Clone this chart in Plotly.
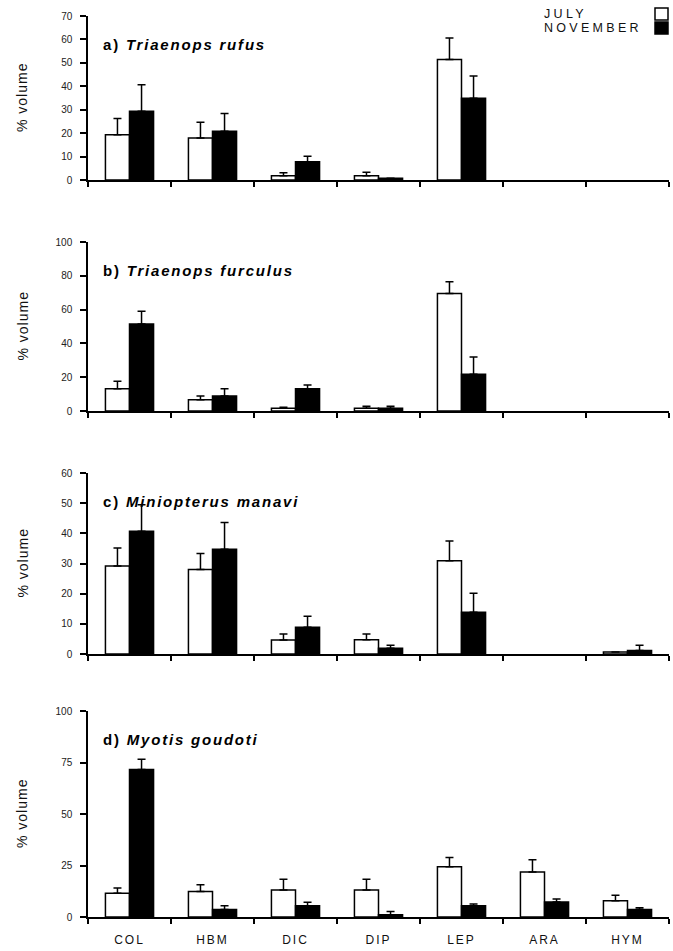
import plotly.graph_objects as go
from plotly.subplots import make_subplots

categories = ["COL", "HEM", "DIC", "DIP", "LEP", "ARA", "HYM"]
tick_labels = ["COL", "HBM", "DIC", "DIP", "LEP", "ARA", "HYM"]

# a) Triaenops rufus
a_july = [19.3, 17.9, 1.8, 1.8, 51.4, None, None]
a_july_se = [6.9, 6.7, 1.3, 1.5, 9.2, None, None]
a_nov = [29.3, 20.8, 7.8, 0.8, 34.9, None, None]
a_nov_se = [11.4, 7.6, 2.3, None, 9.5, None, None]

# b) Triaenops furculus
b_july = [13.2, 6.7, 1.6, 1.6, 69.6, None, None]
b_july_se = [4.4, 2.2, 0.6, 1.2, 6.9, None, None]
b_nov = [51.5, 8.9, 13.2, 1.6, 21.7, None, None]
b_nov_se = [7.5, 4.3, 2.2, 1.2, 10.3, None, None]

# c) Miniopterus manavi
c_july = [29.2, 28.0, 4.6, 4.75, 30.9, None, 0.66]
c_july_se = [5.9, 5.3, 2.0, 1.85, 6.6, None, None]
c_nov = [40.7, 34.7, 8.9, 1.9, 13.8, None, 1.2]
c_nov_se = [8.8, 8.9, 3.6, 1.0, 6.3, None, 1.7]

# d) Myotis goudoti
d_july = [11.5, 12.4, 13.1, 13.1, 24.4, 21.8, 7.9]
d_july_se = [2.6, 3.3, 5.2, 5.2, 4.5, 6.0, 2.6]
d_nov = [71.6, 3.7, 5.5, 1.1, 5.5, 7.3, 3.6]
d_nov_se = [5.0, 1.8, 1.6, 1.6, 0.8, 1.4, 0.9]

panel_titles = ["a) <i>Triaenops rufus</i>", "b) <i>Triaenops furculus</i>",
                "c) <i>Miniopterus manavi</i>", "d) <i>Myotis goudoti</i>"]
y_ranges = [[0, 70], [0, 100], [0, 60], [0, 100]]
y_ticks = [[0, 10, 20, 30, 40, 50, 60, 70], [0, 20, 40, 60, 80, 100],
           [0, 10, 20, 30, 40, 50, 60], [0, 25, 50, 75, 100]]

panels = [(a_july, a_july_se, a_nov, a_nov_se),
          (b_july, b_july_se, b_nov, b_nov_se),
          (c_july, c_july_se, c_nov, c_nov_se),
          (d_july, d_july_se, d_nov, d_nov_se)]

W, H = 673, 951
L, R = 88, 4
# pixel extents (top, bottom) of each panel's plot area
panel_px = [(16, 180), (242, 411), (473, 654), (711, 917)]

FONT = "Liberation Sans, Arial, sans-serif"

fig = make_subplots(rows=4, cols=1)

for i, (jul, jul_se, nov, nov_se) in enumerate(panels):
    r = i + 1
    fig.add_trace(go.Bar(
        x=categories, y=jul, name="JULY",
        marker=dict(color="white", line=dict(color="black", width=1.5)),
        error_y=dict(type="data", symmetric=False, array=jul_se,
                     arrayminus=[0] * len(jul_se), color="black",
                     thickness=1.5, width=4),
        showlegend=False), row=r, col=1)
    fig.add_trace(go.Bar(
        x=categories, y=nov, name="NOVEMBER",
        marker=dict(color="black", line=dict(color="black", width=1.5)),
        error_y=dict(type="data", symmetric=False, array=nov_se,
                     arrayminus=[0] * len(nov_se), color="black",
                     thickness=1.5, width=4),
        showlegend=False), row=r, col=1)

    top, bot = panel_px[i]
    dom = [1 - bot / H, 1 - top / H]
    fig.update_xaxes(
        row=r, col=1, type="category", categoryorder="array",
        categoryarray=categories, range=[-0.5, 6.5],
        showline=True, linecolor="black", linewidth=1.5,
        ticks="outside", tickson="boundaries", ticklen=5, tickwidth=1.5,
        tickcolor="black", showgrid=False, zeroline=False,
        showticklabels=(r == 4),
        tickvals=categories,
        ticktext=['<span style="letter-spacing:2px">%s</span>' % t for t in tick_labels],
        tickfont=dict(family=FONT, size=12, color="#111"),
        ticklabelstandoff=11)
    fig.update_yaxes(
        row=r, col=1, domain=dom, range=y_ranges[i], tickvals=y_ticks[i],
        showline=True, linecolor="black", linewidth=1.5,
        ticks="outside", ticklen=6, tickwidth=1.5, tickcolor="black",
        showgrid=False, zeroline=False, ticklabelstandoff=6,
        tickfont=dict(family=FONT, size=10, color="#222"))

    # panel title
    fig.add_annotation(
        xref="paper", yref="paper", x=(101 - L) / (W - L - R),
        y=1 - (top + 28) / H, xanchor="left", yanchor="middle",
        text='<span style="letter-spacing:1.8px"><b>%s</b></span>' % panel_titles[i],
        showarrow=False, font=dict(family=FONT, size=15, color="black"))
    # y-axis title
    fig.add_annotation(
        xref="paper", yref="paper", x=(22 - L) / (W - L - R),
        y=1 - ((top + bot) / 2) / H, xanchor="center", yanchor="middle",
        text='<span style="letter-spacing:1px">% volume</span>', textangle=-90,
        showarrow=False, font=dict(family=FONT, size=14, color="#111"))

# legend (text left, swatch right)
pw = W - L - R
for label, yc, fill, (y0p, y1p) in [("JULY", 14, "white", (8, 20)),
                                    ("NOVEMBER", 28, "black", (22, 34))]:
    fig.add_annotation(
        xref="paper", yref="paper", x=(542 - L) / pw, y=1 - yc / H,
        xanchor="left", yanchor="middle",
        text='<span style="letter-spacing:3.3px">%s</span>' % label,
        showarrow=False, font=dict(family=FONT, size=12.5, color="#111"))
    fig.add_shape(
        type="rect", xref="paper", yref="paper",
        x0=(655 - L) / pw, x1=(668 - L) / pw,
        y0=1 - y1p / H, y1=1 - y0p / H,
        fillcolor=fill, line=dict(color="black", width=1.5))

fig.update_layout(
    width=W, height=H, barmode="group", bargap=0.42, bargroupgap=0,
    paper_bgcolor="white", plot_bgcolor="white",
    margin=dict(l=L, r=R, t=0, b=0, pad=0, autoexpand=False),
    font=dict(family=FONT, color="black"), showlegend=False)

fig.write_html(
    "out.html",
    config={"displayModeBar": False},
    post_script="document.body.style.margin='0';document.body.style.padding='0';"
                "document.documentElement.style.overflow='hidden';")
